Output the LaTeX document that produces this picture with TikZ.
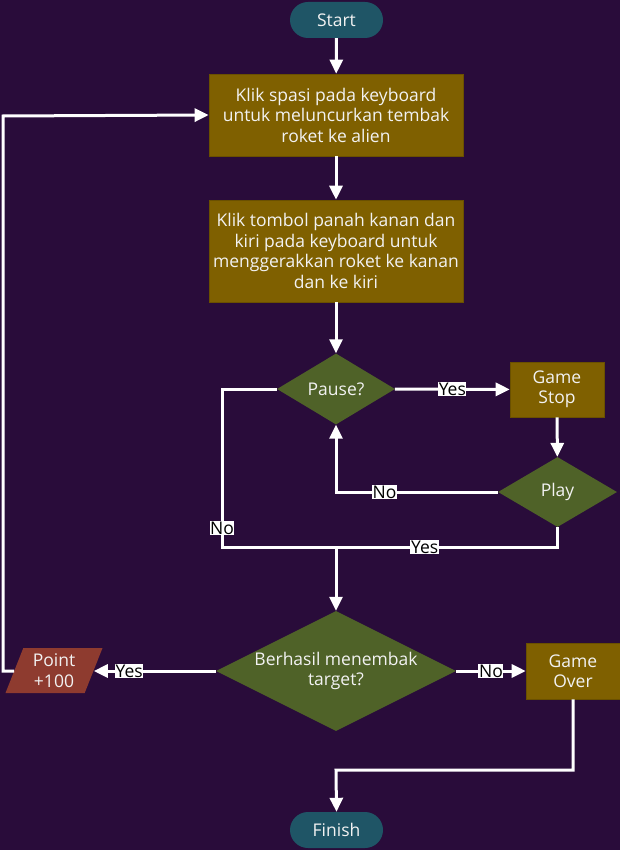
\documentclass[tikz,border=0pt]{standalone}
\usepackage{fontspec}
\setmainfont{Open Sans}
\usetikzlibrary{shapes.geometric,shapes.misc,arrows.meta}
\definecolor{bgpurple}{HTML}{290C3A}
\definecolor{termteal}{HTML}{1F5566}
\definecolor{procbrown}{HTML}{7F6000}
\definecolor{procedge}{HTML}{6A5000}
\definecolor{decgreen}{HTML}{4F6228}
\definecolor{iored}{HTML}{8E3B2F}
\definecolor{txtlight}{HTML}{F2F2F2}
\tikzset{
  base/.style={font=\fontsize{17.5}{20.5}\selectfont, text=txtlight, align=center, inner sep=0pt},
  terminal/.style={base, rounded rectangle, fill=termteal, minimum width=93pt, minimum height=36pt},
  procbox/.style={base, rectangle, fill=procbrown, draw=procedge, line width=0.6pt},
  decision/.style={base, diamond, fill=decgreen, aspect=2},
  iobox/.style={base, trapezium, trapezium left angle=62, trapezium right angle=118,
    trapezium stretches body, fill=iored, minimum width=97pt, minimum height=45pt},
  flow/.style={draw=white, line width=3pt, -{Triangle[length=14pt,width=13pt]}},
  plain/.style={draw=white, line width=3pt},
  lbl/.style={fill=white, text=black, font=\fontsize{17.5}{19}\selectfont, inner sep=0.6pt}
}
\begin{document}
\begin{tikzpicture}[x=1pt,y=-1pt]
\fill[bgpurple] (0,0) rectangle (620,850);
\useasboundingbox (0,0) rectangle (620,850);

% process nodes
\node[terminal] (start) at (336.5,20) {Start};
\node[procbox, minimum width=254pt, minimum height=82pt] (shoot) at (336,115)
  {Klik spasi pada keyboard\\untuk meluncurkan tembak\\roket ke alien};
\node[procbox, minimum width=254pt, minimum height=102pt] (move) at (336,251)
  {Klik tombol panah kanan dan\\kiri pada keyboard untuk\\menggerakkan roket ke kanan\\dan ke kiri};
\node[decision, minimum width=118pt, minimum height=71pt] (pause) at (336,389) {Pause?};
\node[procbox, minimum width=94pt, minimum height=55pt] (stop) at (557,389.5) {Game\\Stop};
\node[decision, minimum width=119pt, minimum height=70pt] (play) at (557.5,492) {Play};
\node[decision, minimum width=240pt, minimum height=120pt] (hit) at (336,671)
  {Berhasil menembak\\target?};
\node[iobox] (point) at (54,670.5) {Point\\+100};
\node[procbox, minimum width=94pt, minimum height=56pt] (over) at (573,671) {Game\\Over};
\node[terminal] (finish) at (336.5,830) {Finish};

% bend points
\coordinate (pl) at (222,389);
\coordinate (pd) at (222,547);
\coordinate (join) at (336,547);
\coordinate (py) at (557.5,547);
\coordinate (lt) at (3,671);
\coordinate (lb) at (3,116);
\coordinate (ob) at (573,770);
\coordinate (fb) at (336,770);

% connectors
\draw[flow] (start) -- (shoot);
\draw[flow] (shoot) -- (move);
\draw[flow] (move) -- (pause);
\draw[flow] (pause) -- node[lbl, pos=0.5] {Yes} (stop);
\draw[flow] (stop) -- (play);
\draw[flow] (play.west) -- node[lbl, pos=0.7] {No} (pause.south |- play.west) -- (pause.south);
\draw[plain] (pause.west) -- (pl) -- node[lbl, pos=0.88] {No} (pd) -- (join);
\draw[plain] (play.south) -- (py) -- node[lbl, pos=0.6] {Yes} (join);
\draw[flow] (join) -- (hit.north);
\draw[flow] (hit.west) -- node[lbl, pos=0.71] {Yes} (point.east |- hit.west);
\draw[flow] (point.west |- hit.west) -- (lt) -- (lb) -- (shoot.west);
\draw[flow] (hit.east) -- node[lbl, pos=0.5] {No} (over.west);
\draw[flow] (over.south) -- (ob) -- (fb) -- (finish.north);
\end{tikzpicture}
\end{document}
